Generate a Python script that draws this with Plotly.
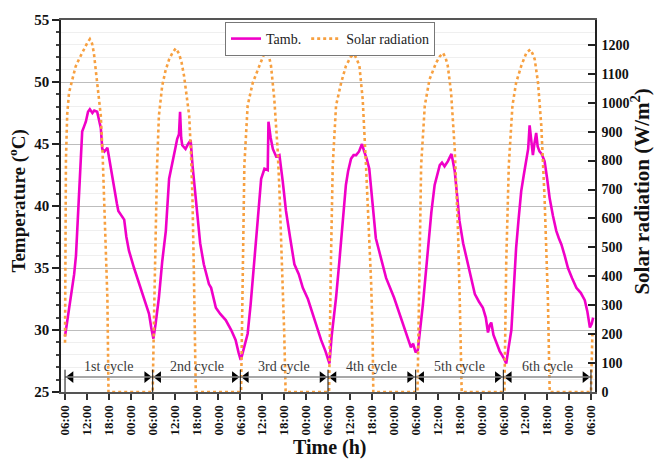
import plotly.graph_objects as go

# ---------------- data ----------------
# hours elapsed since 06:00 of day 1
temp_hours = [0.0, 0.5, 1.5, 2.5, 3.0, 3.8, 4.7, 5.2, 5.7, 6.3, 6.8, 7.5, 8.0, 8.8, 9.3, 9.8,
              10.2, 10.8, 11.6, 12.2, 12.9, 13.6, 14.2, 14.6, 15.3, 16.2, 16.8, 17.5, 18.9,
              20.2, 21.6, 23.0, 23.6, 24.2, 24.8, 25.7, 26.6, 27.6, 28.5, 29.2, 29.8, 30.3,
              30.7, 31.2, 31.5, 31.8, 32.1, 33.0, 33.7, 34.4, 34.9, 35.5, 36.2, 37.0, 38.0,
              39.4, 40.0, 41.3, 42.5, 44.0, 45.5, 46.7, 47.5, 48.1, 48.5, 49.0, 50.0, 50.8,
              51.8, 52.8, 53.7, 54.6, 55.5, 55.7, 56.3, 56.9, 57.8, 58.7, 59.6, 60.5, 61.6,
              62.8, 64.0, 65.1, 66.5, 67.8, 69.0, 70.1, 71.3, 72.4, 73.0, 74.2, 75.1, 76.0,
              76.9, 77.5, 78.3, 79.0, 79.7, 80.5, 81.3, 81.9, 82.6, 83.3, 84.2, 85.1, 86.5,
              87.9, 90.1, 91.2, 92.4, 93.5, 94.7, 95.3, 96.0, 96.6, 97.3, 98.0, 99.4, 100.3,
              101.2, 101.8, 102.6, 103.2, 103.9, 104.8, 105.8, 106.2, 106.7, 107.3, 108.0,
              109.0, 110.3, 111.2, 112.2, 113.3, 114.4, 115.2, 115.8, 116.3, 116.7, 117.3,
              118.1, 119.0, 120.0, 120.8, 121.4, 122.2, 122.8, 123.5, 124.2, 124.9, 125.6,
              126.3, 126.8, 127.2, 127.6, 128.1, 128.5, 129.0, 129.4, 129.9, 130.5, 131.3,
              132.0, 132.7, 133.6, 134.5, 135.2, 135.9, 136.8, 137.7, 138.8, 140.0, 141.2,
              142.3, 143.0, 143.7, 144.2, 144.6]
temp_c = [29.5, 30.5, 32.5, 34.5, 36.0, 40.6, 46.0, 46.4, 46.8, 47.6, 47.8, 47.5, 47.7, 47.6,
          46.8, 46.3, 44.6, 44.4, 44.7, 43.6, 42.5, 41.2, 40.2, 39.6, 39.3, 38.9, 37.5, 36.4,
          35.0, 33.8, 32.6, 31.3, 30.2, 29.3, 30.5, 32.6, 35.5, 38.0, 42.2, 43.2, 43.8, 44.8,
          45.4, 45.8, 47.6, 45.5, 44.9, 44.6, 45.0, 45.3, 43.3, 41.5, 39.0, 37.0, 35.3, 33.7,
          33.4, 31.8, 31.3, 30.8, 30.0, 29.2, 28.2, 27.6, 28.0, 28.6, 29.7, 32.0, 35.8, 39.0,
          42.2, 43.0, 42.9, 46.8, 45.5, 44.6, 44.0, 44.1, 42.0, 39.6, 37.5, 35.3, 34.5, 33.4,
          32.5, 31.3, 30.3, 29.2, 28.3, 27.3, 29.5, 32.6, 35.5, 38.5, 41.7, 42.8, 43.8, 44.1,
          44.1, 44.4, 45.0, 44.4, 43.8, 43.0, 40.0, 37.4, 35.8, 34.2, 32.6, 31.6, 30.5, 29.5,
          28.6, 28.9, 28.2, 28.4, 30.2, 32.1, 36.6, 39.5, 41.7, 42.3, 43.3, 43.5, 43.2, 43.6,
          44.2, 43.6, 42.8, 41.0, 38.8, 37.0, 35.3, 34.0, 32.9, 32.3, 31.8, 31.0, 29.8, 30.4,
          30.6, 29.6, 28.9, 28.3, 27.8, 27.3, 28.5, 30.0, 33.0, 36.6, 39.0, 41.2, 42.5, 43.8,
          44.6, 46.5, 45.6, 44.1, 45.0, 45.9, 44.8, 44.4, 44.2, 43.6, 42.2, 40.6, 39.2, 38.0,
          37.4, 36.9, 36.0, 35.0, 34.2, 33.4, 33.0, 32.4, 31.5, 30.2, 30.5, 31.0]

# solar radiation, per day: hours after that day's 06:00 and W/m2
solar_day_hours = [
    [0.0, 0.25, 0.6, 1.1, 2.0, 2.9, 3.8, 4.7, 5.5, 6.1, 6.8, 7.4, 7.9, 8.8, 9.8, 10.3, 10.7, 11.2, 11.6, 11.9],
    [0.0, 0.4, 0.8, 1.2, 1.7, 2.6, 3.5, 4.5, 5.4, 6.3, 7.2, 7.9, 8.6, 9.3, 10.0, 10.5, 10.9, 11.3, 11.8],
    [0.2, 0.6, 1.1, 2.0, 3.4, 5.2, 6.3, 7.0, 7.7, 8.4, 9.3, 10.2, 10.7, 11.1, 11.6, 12.0, 12.4],
    [0.3, 0.8, 1.3, 2.2, 3.6, 4.9, 6.3, 7.2, 7.9, 8.6, 9.5, 10.4, 11.3, 11.8, 12.2, 12.4],
    [0.5, 1.0, 1.5, 2.5, 3.8, 5.6, 6.6, 7.5, 8.2, 8.8, 9.7, 10.7, 11.6, 12.1, 12.6],
    [0.3, 0.8, 1.5, 2.5, 3.5, 4.9, 6.3, 7.4, 8.0, 8.6, 9.5, 10.4, 11.3, 12.2, 12.7],
]
solar_day_wm2 = [
    [170, 800, 960, 1035, 1080, 1125, 1150, 1172, 1195, 1207, 1220, 1205, 1172, 1069, 955, 820, 668, 480, 324, 0],
    [0, 280, 553, 780, 955, 1058, 1110, 1150, 1172, 1188, 1170, 1140, 1092, 1030, 955, 820, 668, 400, 0],
    [0, 450, 784, 990, 1069, 1127, 1165, 1184, 1170, 1127, 1012, 840, 700, 553, 380, 210, 0],
    [0, 450, 784, 990, 1069, 1127, 1160, 1167, 1150, 1127, 1012, 784, 553, 380, 210, 0],
    [0, 450, 784, 990, 1081, 1138, 1160, 1172, 1155, 1127, 1035, 840, 553, 300, 0],
    [0, 450, 784, 990, 1069, 1127, 1172, 1184, 1170, 1150, 1069, 920, 668, 324, 0],
]
solar_tail_hours = [144.0, 144.4]
solar_tail_wm2 = [0, 210]

day_length_h = 24
tick_hours = list(range(0, 145, 6))
tick_clock = ["06:00", "12:00", "18:00", "00:00"]
cycle_bounds = [0, 24, 48, 72, 96, 120, 144]
cycle_labels = ["1st cycle", "2nd cycle", "3rd cycle", "4th cycle", "5th cycle", "6th cycle"]

# ---------------- assemble ----------------
solar_hours, solar_wm2 = [], []
for d, (hh, ww) in enumerate(zip(solar_day_hours, solar_day_wm2)):
    solar_hours += [d * day_length_h + h for h in hh]
    solar_wm2 += ww
solar_hours += solar_tail_hours
solar_wm2 += solar_tail_wm2

tick_text = [tick_clock[i % 4] for i in range(len(tick_hours))]

SERIF = "Liberation Serif"
W, H = 654, 465
ML, MR, MT, MB = 61, 59, 17, 73
XR = [-1.1, 145.1]
YR = [25, 55]
Y2R = [0, 1286]
plot_w = W - ML - MR
plot_h = H - MT - MB
px_per_h = plot_w / (XR[1] - XR[0])


def px_x(px):
    return (px - ML) / plot_w


def px_y(py):
    return ((H - MB) - py) / plot_h


fig = go.Figure()
fig.add_trace(go.Scatter(x=temp_hours, y=temp_c, name="Tamb.", mode="lines",
                         line=dict(color="#F000C8", width=2.6), yaxis="y"))
fig.add_trace(go.Scatter(x=solar_hours, y=solar_wm2, name="Solar radiation", mode="lines",
                         line=dict(color="#F7A040", width=2.6, dash="3px,3px"), yaxis="y2"))

# cycle arrows
arrow_y = 26.2
tri_size = 10
tip_off = (tri_size / 2) * 2 / 3 ** 0.5 / px_per_h
for i, lab in enumerate(cycle_labels):
    a, b = cycle_bounds[i], cycle_bounds[i + 1]
    fig.add_shape(type="line", x0=a, x1=b, y0=arrow_y, y1=arrow_y, xref="x", yref="y",
                  line=dict(color="#8a8a8a", width=1.5))
    fig.add_annotation(x=(a + b) / 2, y=arrow_y + 0.12, xref="x", yref="y", text=lab,
                       showarrow=False, yanchor="bottom",
                       font=dict(family=SERIF, size=14, color="#3a3a3a"))
for b in cycle_bounds:
    fig.add_shape(type="line", x0=b, x1=b, y0=25, y1=26.8, xref="x", yref="y",
                  line=dict(color="#111", width=1))
fig.add_trace(go.Scatter(x=[b + tip_off for b in cycle_bounds[:-1]], y=[arrow_y] * 6,
                         mode="markers", showlegend=False, hoverinfo="skip",
                         marker=dict(symbol="triangle-left", size=tri_size, color="black")))
fig.add_trace(go.Scatter(x=[b - tip_off for b in cycle_bounds[1:]], y=[arrow_y] * 6,
                         mode="markers", showlegend=False, hoverinfo="skip",
                         marker=dict(symbol="triangle-right", size=tri_size, color="black")))

# axis titles
fig.add_annotation(x=px_x(330), y=px_y(448), xref="paper", yref="paper",
                   text="<b>Time (h)</b>", showarrow=False, yanchor="middle",
                   font=dict(family=SERIF, size=20, color="#111"))
fig.add_annotation(x=px_x(18), y=px_y(200), xref="paper", yref="paper",
                   text="<b>Temperature (<sup>o</sup>C)</b>", showarrow=False, textangle=-90,
                   xanchor="center", yanchor="middle",
                   font=dict(family=SERIF, size=19, color="#111"))
fig.add_annotation(x=px_x(641), y=px_y(190), xref="paper", yref="paper",
                   text="<b>Solar radiation (W/m<sup>2</sup>)</b>", showarrow=False, textangle=-90,
                   xanchor="center", yanchor="middle",
                   font=dict(family=SERIF, size=21, color="#111"))

fig.update_layout(
    width=W, height=H,
    margin=dict(l=ML, r=MR, t=MT, b=MB),
    paper_bgcolor="white", plot_bgcolor="white",
    font=dict(family=SERIF, color="#111"),
    showlegend=True,
    legend=dict(orientation="h", x=px_x(225), y=px_y(19),
                xanchor="left", yanchor="top", bgcolor="white",
                bordercolor="#777", borderwidth=1,
                font=dict(family=SERIF, size=14, color="#222"),
                tracegroupgap=0, itemwidth=30),
    xaxis=dict(range=XR, tickmode="array", tickvals=tick_hours, ticktext=tick_text,
               tickangle=-90, ticks="outside", ticklen=6, tickwidth=1.5, tickcolor="#333",
               showline=True, linecolor="#555", linewidth=2, mirror=True,
               showgrid=False, zeroline=False,
               tickfont=dict(family=SERIF, size=13, color="#111", weight="bold")),
    yaxis=dict(range=YR, dtick=5, ticks="outside", ticklen=7, tickwidth=1.5, tickcolor="#222",
               showline=True, linecolor="#222", linewidth=1.5, mirror=False,
               showgrid=True, gridcolor="#bdbdbd", gridwidth=1, zeroline=False,
               minor=dict(dtick=1, ticks="outside", ticklen=3, tickcolor="#444",
                          showgrid=True, gridcolor="#efefef", gridwidth=1),
               tickfont=dict(family=SERIF, size=15, color="#111", weight="bold")),
    yaxis2=dict(range=Y2R, dtick=100, overlaying="y", side="right", ticks="inside",
                ticklen=7, tickwidth=1.5, tickcolor="#222", showline=True,
                linecolor="#222", linewidth=1.5, showgrid=False, zeroline=False,
                ticklabelstandoff=2,
                tickfont=dict(family=SERIF, size=14, color="#111", weight="bold")),
)

fig.write_html("out.html", config={"displayModeBar": False},
               post_script="document.body.style.margin='0px';")
